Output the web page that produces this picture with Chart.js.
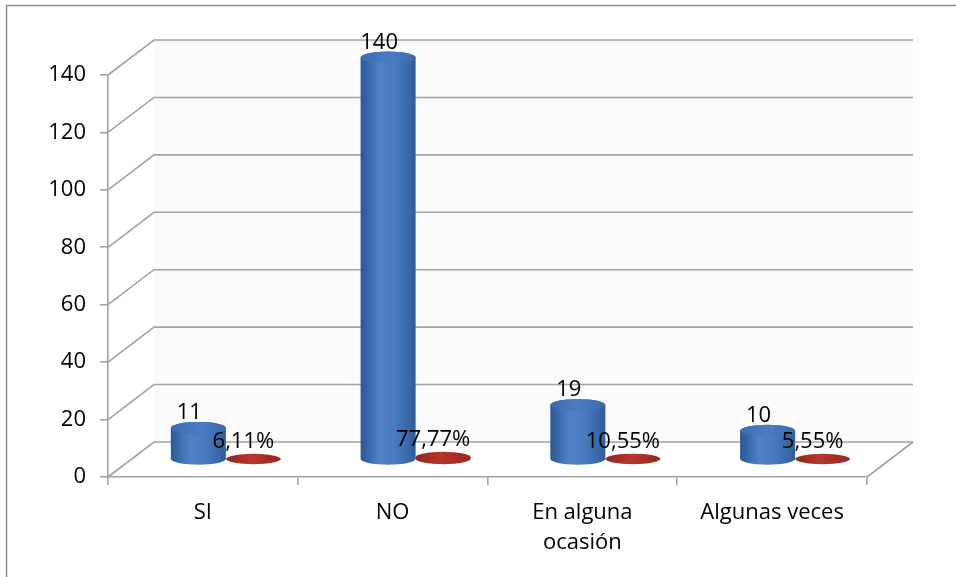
<!DOCTYPE html>
<html>
<head>
<meta charset="utf-8">
<script src="https://cdn.jsdelivr.net/npm/chart.js@4/dist/chart.umd.min.js"></script>
<style>
  html, body { margin: 0; padding: 0; background: #ffffff; }
  #wrap { position: relative; width: 956px; height: 577px; }
  canvas { display: block; }
</style>
</head>
<body>
<div id="wrap"><canvas id="c" width="956" height="577"></canvas></div>
<script>
// Survey answers: count of responses and share of the total
const categories = ['SI', 'NO', ['En alguna', 'ocasión'], 'Algunas veces'];
const counts = [11, 140, 19, 10];
const shares = [0.0611, 0.7777, 0.1055, 0.0555];
const countLabels = ['11', '140', '19', '10'];
const shareLabels = ['6,11%', '77,77%', '10,55%', '5,55%'];
const yTicks = [0, 20, 40, 60, 80, 100, 120, 140];

const FONT = '"Open Sans", "Liberation Sans", sans-serif';
const DEPTH_X = 46, DEPTH_Y = -35;   // 3D depth of the plot box
const LINE = '#a3a3a3';

// Closed cylinder outline: lower half of the base ellipse, then upper half of the top ellipse
function cylinderPath(ctx, cx, top, bot, rx, ry) {
  ctx.beginPath();
  ctx.ellipse(cx, bot, rx, ry, 0, 0, Math.PI, false);
  ctx.lineTo(cx - rx, top);
  ctx.ellipse(cx, top, rx, ry, 0, Math.PI, Math.PI * 2, false);
  ctx.closePath();
}

// Walls, floor and perspective grid
const boxPlugin = {
  id: 'box3d',
  beforeDatasetsDraw(chart) {
    const { ctx, chartArea: a, scales: { y } } = chart;
    ctx.save();
    // outer frame
    ctx.strokeStyle = '#8c8c8c';
    ctx.lineWidth = 1.5;
    ctx.strokeRect(6.5, 5.5, 1000, 1000);
    // faint wall fill
    ctx.fillStyle = '#fbfbfb';
    const topY = y.getPixelForValue(140) + DEPTH_Y;
    const botY = y.getPixelForValue(0) + DEPTH_Y;
    ctx.fillRect(a.left + DEPTH_X, topY, a.right - a.left, botY - topY);
    ctx.strokeStyle = LINE;
    ctx.lineWidth = 1.6;
    yTicks.forEach(v => {
      const py = y.getPixelForValue(v);
      ctx.beginPath();
      ctx.moveTo(a.left, py);
      ctx.lineTo(a.left + DEPTH_X, py + DEPTH_Y);
      ctx.lineTo(a.right + DEPTH_X, py + DEPTH_Y);
      ctx.stroke();
    });
    // right edge of floor
    const p0 = y.getPixelForValue(0);
    ctx.beginPath();
    ctx.moveTo(a.right, p0);
    ctx.lineTo(a.right + DEPTH_X, p0 + DEPTH_Y);
    ctx.stroke();
    ctx.restore();
  },
  afterDatasetsDraw(chart) {
    const { ctx } = chart;
    const dx = DEPTH_X / 2, dy = DEPTH_Y / 2;
    ctx.save();
    ctx.font = '22px ' + FONT;
    ctx.textAlign = 'center';
    ctx.textBaseline = 'alphabetic';
    // blue cylinders
    const m0 = chart.getDatasetMeta(0);
    m0.data.forEach((bar, i) => {
      const w = bar.width, cx = bar.x + dx, rx = w / 2, ry = 6;
      const top = bar.y + dy, bot = bar.base + dy;
      const g = ctx.createLinearGradient(cx - rx, 0, cx + rx, 0);
      g.addColorStop(0, '#2b5894');
      g.addColorStop(0.35, '#4f82c6');
      g.addColorStop(0.6, '#4a7cc0');
      g.addColorStop(1, '#2f5e9c');
      ctx.fillStyle = g;
      cylinderPath(ctx, cx, top, bot, rx, ry);
      ctx.fill();
      // top cap
      const gt = ctx.createLinearGradient(cx - rx, 0, cx + rx, 0);
      gt.addColorStop(0, '#3b6cb0');
      gt.addColorStop(0.5, '#4a7dc2');
      gt.addColorStop(1, '#3a6aab');
      ctx.fillStyle = gt;
      ctx.beginPath();
      ctx.ellipse(cx, top, rx, ry, 0, 0, Math.PI * 2);
      ctx.fill();
      ctx.fillStyle = '#000';
      ctx.fillText(countLabels[i], cx - 9, top - ry - 3);
    });
    // red discs
    const m1 = chart.getDatasetMeta(1);
    m1.data.forEach((bar, i) => {
      const w = bar.width, cx = bar.x + dx, rx = w / 2, ry = 5.5;
      const top = bar.y + dy, bot = bar.base + dy;
      const g = ctx.createLinearGradient(cx - rx, 0, cx + rx, 0);
      g.addColorStop(0, '#8f2520');
      g.addColorStop(0.45, '#b8342c');
      g.addColorStop(1, '#952822');
      ctx.fillStyle = g;
      cylinderPath(ctx, cx, top, bot, rx, ry);
      ctx.fill();
      ctx.fillStyle = '#000';
      ctx.fillText(shareLabels[i], cx - 10, top - 11);
    });
    ctx.restore();
  }
};

new Chart(document.getElementById('c'), {
  type: 'bar',
  data: {
    labels: categories,
    datasets: [
      { label: 'Frecuencia', data: counts, backgroundColor: 'rgba(0,0,0,0)', borderWidth: 0 },
      { label: 'Porcentaje', data: shares, backgroundColor: 'rgba(0,0,0,0)', borderWidth: 0 }
    ]
  },
  options: {
    responsive: false,
    animation: false,
    devicePixelRatio: 1,
    layout: { padding: { left: 0, top: 75, right: 89, bottom: 0 } },
    plugins: { legend: { display: false }, tooltip: { enabled: false } },
    datasets: { bar: { categoryPercentage: 0.58, barPercentage: 1.0 } },
    scales: {
      x: {
        offset: true,
        afterFit(s) { s.height = 100; },
        grid: { offset: true, drawOnChartArea: false, drawTicks: true, tickLength: 8, color: LINE, lineWidth: 1.6 },
        border: { display: true, color: LINE, width: 1.6 },
        ticks: { color: '#000', font: { family: FONT, size: 22, lineHeight: 1.4 }, padding: 12, maxRotation: 0, autoSkip: false }
      },
      y: {
        min: 0, max: 140,
        afterFit(s) { s.width = 108; },
        afterBuildTicks(s) { s.ticks = yTicks.map(v => ({ value: v })); },
        grid: { drawOnChartArea: false, drawTicks: true, tickLength: 8, color: LINE, lineWidth: 1.6 },
        border: { display: true, color: LINE, width: 1.6 },
        ticks: { color: '#000', font: { family: FONT, size: 22 }, padding: 14 }
      }
    }
  },
  plugins: [boxPlugin]
});
</script>
</body>
</html>
